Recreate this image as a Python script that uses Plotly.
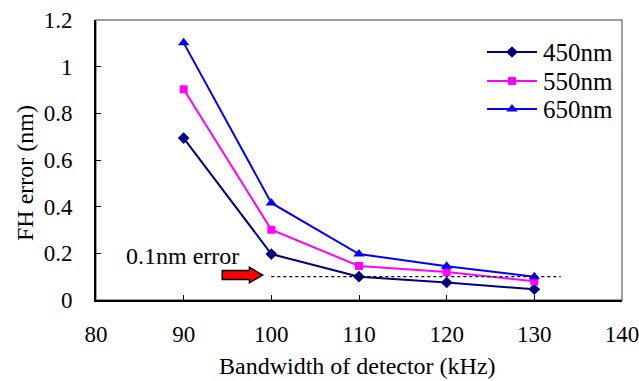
import plotly.graph_objects as go

bandwidth = [90, 100, 110, 120, 130]
err_450 = [0.694, 0.197, 0.100, 0.075, 0.046]
err_550 = [0.903, 0.301, 0.146, 0.120, 0.080]
err_650 = [1.102, 0.416, 0.197, 0.145, 0.100]

threshold_x = [100, 133]
threshold_y = [0.1, 0.1]

series_names = ["450nm", "550nm", "650nm"]
series_values = [err_450, err_550, err_650]
colors = ["#000080", "#FF00FF", "#0000FF"]
symbols = ["diamond", "square", "triangle-up"]
sizes = [9, 8, 10]

FONT = "Liberation Serif"
W, H = 639, 381
L, R, T, B = 96, 17, 20, 81
PW, PH = W - L - R, H - T - B


def px(x):
    return (x - L) / PW


def py(y):
    return (H - B - y) / PH


fig = go.Figure()
for name, ys, color, sym, sz in zip(series_names, series_values, colors, symbols, sizes):
    fig.add_trace(go.Scatter(
        x=bandwidth, y=ys, name=name, mode="lines+markers", showlegend=False,
        line=dict(color=color, width=2),
        marker=dict(symbol=sym, size=sz, color=color),
    ))

fig.add_trace(go.Scatter(
    x=threshold_x, y=threshold_y, mode="lines", showlegend=False,
    line=dict(color="black", width=1.2, dash="dot"), hoverinfo="skip",
))

# manual legend (50px line with marker, like the original)
leg_rows = [52, 81, 109]
for name, color, sym, sz, ry in zip(series_names, colors, symbols, sizes, leg_rows):
    fig.add_trace(go.Scatter(
        x=[px(487), px(537)], y=[py(ry), py(ry)], xaxis="x2", yaxis="y2",
        mode="lines", line=dict(color=color, width=2), showlegend=False, hoverinfo="skip"))
    fig.add_trace(go.Scatter(
        x=[px(512)], y=[py(ry)], xaxis="x2", yaxis="y2",
        mode="markers", marker=dict(symbol=sym, size=sz, color=color),
        showlegend=False, hoverinfo="skip"))
    fig.add_annotation(x=px(541), y=py(ry), xref="paper", yref="paper", text=name,
                       xanchor="left", yanchor="middle", showarrow=False,
                       font=dict(family=FONT, size=25, color="black"))

# red arrow pointing to threshold line
ax0, axh, ax1 = 94.4, 97.5, 99.0
yc, bh, hh = 0.107, 0.019, 0.033
path = (f"M {ax0},{yc-bh} L {axh},{yc-bh} L {axh},{yc-hh} L {ax1},{yc} "
        f"L {axh},{yc+hh} L {axh},{yc+bh} L {ax0},{yc+bh} Z")
fig.add_shape(type="path", path=path, xref="x", yref="y",
              fillcolor="#FF0000", line=dict(color="black", width=1.5))

fig.add_annotation(x=89.9, y=0.19, xref="x", yref="y", text="0.1nm error",
                   showarrow=False, font=dict(family=FONT, size=24, color="black"))

# axis titles
fig.add_annotation(x=px(357), y=py(366), xref="paper", yref="paper",
                   text="Bandwidth of detector (kHz)", showarrow=False,
                   xanchor="center", yanchor="middle",
                   font=dict(family=FONT, size=24, color="black"))
fig.add_annotation(x=px(25), y=py(173), xref="paper", yref="paper",
                   text="FH error (nm)", showarrow=False, textangle=-90,
                   xanchor="center", yanchor="middle",
                   font=dict(family=FONT, size=24, color="black"))

# frame (gray top/right)
fig.add_shape(type="rect", xref="paper", yref="paper", x0=0, x1=1, y0=0, y1=1,
              line=dict(color="#808080", width=1.5), layer="below")

fig.update_layout(
    width=W, height=H,
    margin=dict(l=L, r=R, t=T, b=B, autoexpand=False),
    paper_bgcolor="white", plot_bgcolor="white",
    font=dict(family=FONT, size=23, color="black"),
    showlegend=False,
    xaxis2=dict(range=[0, 1], overlaying="x", visible=False, fixedrange=True),
    yaxis2=dict(range=[0, 1], overlaying="y", visible=False, fixedrange=True),
)
fig.update_layout(xaxis=dict(
    range=[80, 140], tickvals=[80, 90, 100, 110, 120, 130, 140],
    showgrid=False, zeroline=False, showline=True, linecolor="black",
    linewidth=2, ticks="inside", ticklen=5, tickcolor="black",
    tickfont=dict(family=FONT, size=23), ticklabelstandoff=12,
    ticklabeloverflow="allow", automargin=False))
fig.update_layout(yaxis=dict(
    range=[0, 1.2], tickvals=[0, 0.2, 0.4, 0.6, 0.8, 1.0, 1.2],
    ticktext=["0", "0.2", "0.4", "0.6", "0.8", "1", "1.2"],
    showgrid=False, zeroline=False, showline=True, linecolor="black",
    linewidth=2, ticks="inside", ticklen=5, tickcolor="black",
    tickfont=dict(family=FONT, size=23), ticklabelstandoff=17,
    ticklabeloverflow="allow", automargin=False))

fig.write_html("out.html")
